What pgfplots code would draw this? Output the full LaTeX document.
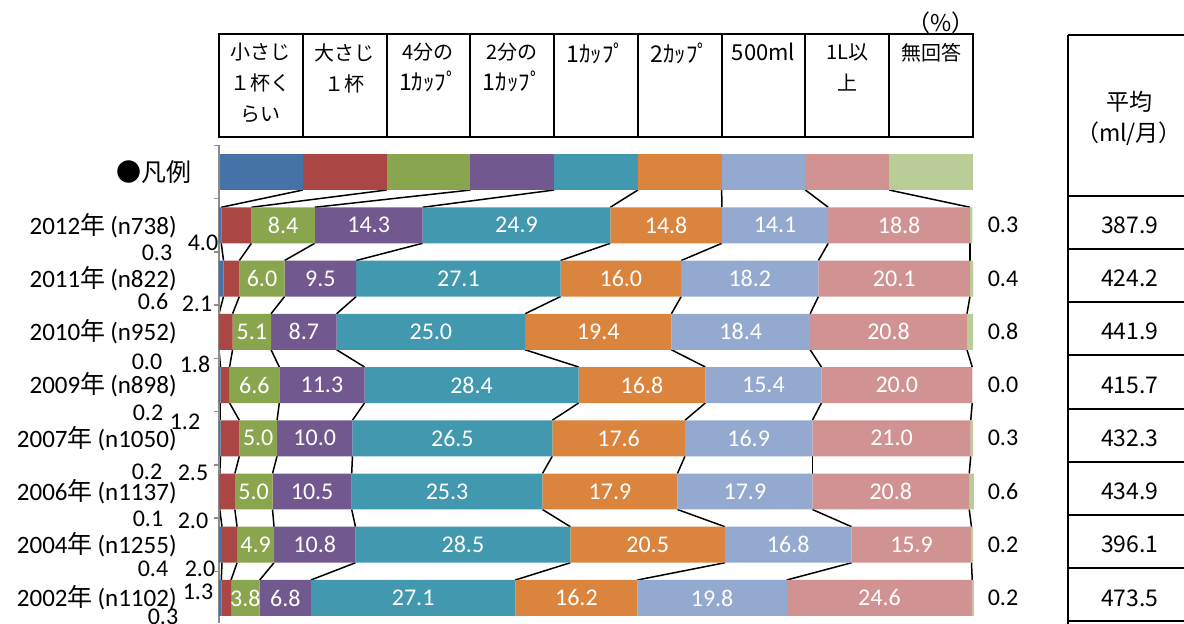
\documentclass[border=0pt]{standalone}
\usepackage{fontspec}
\setmainfont{Carlito}
\newfontfamily\cjk{Noto Sans CJK JP}
\usepackage{pgfplots}
\usepackage{pgfplotstable}
\pgfplotsset{compat=1.18}

\definecolor{cA}{HTML}{4572A7}
\definecolor{cB}{HTML}{AA4643}
\definecolor{cC}{HTML}{89A54E}
\definecolor{cD}{HTML}{71588F}
\definecolor{cE}{HTML}{4198AF}
\definecolor{cF}{HTML}{DB843D}
\definecolor{cG}{HTML}{93A9CF}
\definecolor{cH}{HTML}{D19392}
\definecolor{cI}{HTML}{B9CD96}

% row 0 = legend bar; c1..c9 in %, avg = ml/month
% bx by rx ry = label offsets (pt) of the two small left-hand values
\pgfplotstableread{
y c1 c2 c3 c4 c5 c6 c7 c8 c9 avg bx by rx ry
0 11.111 11.111 11.111 11.111 11.111 11.111 11.111 11.111 11.111 0 0 0 0 0
1 0.3 4.0 8.4 14.3 24.9 14.8 14.1 18.8 0.3 387.9 -31 -14 -8 -9
2 0.6 2.1 6.0 9.5 27.1 16.0 18.2 20.1 0.4 424.2 -33 -11.5 -11 -12.5
3 0.0 1.8 5.1 8.7 25.0 19.4 18.4 20.8 0.8 441.9 -36 -15 -12 -16.5
4 0.2 1.2 6.6 11.3 28.4 16.8 15.4 20.0 0.0 415.7 -35.5 -14 -17 -18.5
5 0.2 2.5 5.0 10.0 26.5 17.6 16.9 21.0 0.3 432.3 -36 -17 -13 -17.5
6 0.1 2.0 5.0 10.5 25.3 17.9 17.9 20.8 0.6 434.9 -35.5 -13.5 -13 -14.5
7 0.4 2.0 4.9 10.8 28.5 20.5 16.8 15.9 0.2 396.1 -33 -12 -9.5 -12
8 0.3 1.3 3.8 6.8 27.1 16.2 19.8 24.6 0.2 473.5 -28 -9.5 -10.5 3
}\data

% running totals (segment boundaries) and their change from the row above
\pgfplotstablecreatecol[create col/expr={\thisrow{c1}}]{s1}\data
\pgfplotstablecreatecol[create col/expr={\thisrow{s1}+\thisrow{c2}}]{s2}\data
\pgfplotstablecreatecol[create col/expr={\thisrow{s2}+\thisrow{c3}}]{s3}\data
\pgfplotstablecreatecol[create col/expr={\thisrow{s3}+\thisrow{c4}}]{s4}\data
\pgfplotstablecreatecol[create col/expr={\thisrow{s4}+\thisrow{c5}}]{s5}\data
\pgfplotstablecreatecol[create col/expr={\thisrow{s5}+\thisrow{c6}}]{s6}\data
\pgfplotstablecreatecol[create col/expr={\thisrow{s6}+\thisrow{c7}}]{s7}\data
\pgfplotstablecreatecol[create col/expr={\thisrow{s7}+\thisrow{c8}}]{s8}\data
\pgfplotstablecreatecol[create col/expr={\prevrow{s1}-\thisrow{s1}}]{d1}\data
\pgfplotstablecreatecol[create col/expr={\prevrow{s2}-\thisrow{s2}}]{d2}\data
\pgfplotstablecreatecol[create col/expr={\prevrow{s3}-\thisrow{s3}}]{d3}\data
\pgfplotstablecreatecol[create col/expr={\prevrow{s4}-\thisrow{s4}}]{d4}\data
\pgfplotstablecreatecol[create col/expr={\prevrow{s5}-\thisrow{s5}}]{d5}\data
\pgfplotstablecreatecol[create col/expr={\prevrow{s6}-\thisrow{s6}}]{d6}\data
\pgfplotstablecreatecol[create col/expr={\prevrow{s7}-\thisrow{s7}}]{d7}\data
\pgfplotstablecreatecol[create col/expr={\prevrow{s8}-\thisrow{s8}}]{d8}\data

\pgfplotsset{
  /pgf/number format/assume math mode=true,
  base/.style={at={(109.5pt,0pt)}, anchor=south west, scale only axis,
    width=377pt, height=238.8pt, xmin=0, xmax=100, ymin=-0.5, ymax=8.47,
    y dir=reverse, clip=false},
  lab/.style={nodes near coords={\pgfmathprintnumber[fixed,fixed zerofill,precision=1]{\pgfplotspointmeta}},
    point meta=explicit},
  inlab/.style={lab, every node near coord/.append style={anchor=center,
      text=white, font=\fontsize{12}{14}\selectfont}},
  outlab/.style 2 args={draw=none, lab, skip coords between index={0}{1},
    visualization depends on={\thisrow{#1}\as\vdx},
    visualization depends on={\thisrow{#2}\as\vdy},
    every node near coord/.append style={anchor=center, text=black,
      font=\fontsize{12}{14}\selectfont, xshift=\vdx pt, yshift=\vdy pt}},
  sline/.style={black, line width=0.75pt, quiver={u=\thisrow{d#1}, v=-0.324},
    skip coords between index={0}{1}},
}

\begin{document}
\begin{tikzpicture}
\useasboundingbox (0,0) rectangle (592pt,311.5pt);
\clip (0,0) rectangle (592pt,311.5pt);

% series lines, small outside values and the average column
\begin{axis}[base, hide axis]
  \addplot[sline=1] table[x=s1, y expr=\thisrow{y}-0.338] {\data};
  \addplot[sline=2] table[x=s2, y expr=\thisrow{y}-0.338] {\data};
  \addplot[sline=3] table[x=s3, y expr=\thisrow{y}-0.338] {\data};
  \addplot[sline=4] table[x=s4, y expr=\thisrow{y}-0.338] {\data};
  \addplot[sline=5] table[x=s5, y expr=\thisrow{y}-0.338] {\data};
  \addplot[sline=6] table[x=s6, y expr=\thisrow{y}-0.338] {\data};
  \addplot[sline=7] table[x=s7, y expr=\thisrow{y}-0.338] {\data};
  \addplot[sline=8] table[x=s8, y expr=\thisrow{y}-0.338] {\data};
  \addplot[outlab={bx}{by}] table[x expr=0, y=y, meta=c1] {\data};
  \addplot[outlab={rx}{ry}] table[x expr=0, y=y, meta=c2] {\data};
  \addplot[draw=none, lab, skip coords between index={0}{1},
    every node near coord/.append style={anchor=center, text=black,
      xshift=15pt, font=\fontsize{12}{14}\selectfont}]
    table[x expr=100, y=y, meta=c9] {\data};
  \addplot[draw=none, lab, skip coords between index={0}{1},
    every node near coord/.append style={anchor=center, text=black,
      font=\cjk\fontsize{11.5}{13}\selectfont}]
    table[x expr=120.8, y=y, meta=avg] {\data};
\end{axis}

% legend bar
\begin{axis}[base, hide axis, xbar stacked, bar width=0.676,
  every axis plot/.append style={draw=none, skip coords between index={1}{9}}]
  \addplot[fill=cA] table[x=c1, y=y] {\data};
  \addplot[fill=cB] table[x=c2, y=y] {\data};
  \addplot[fill=cC] table[x=c3, y=y] {\data};
  \addplot[fill=cD] table[x=c4, y=y] {\data};
  \addplot[fill=cE] table[x=c5, y=y] {\data};
  \addplot[fill=cF] table[x=c6, y=y] {\data};
  \addplot[fill=cG] table[x=c7, y=y] {\data};
  \addplot[fill=cH] table[x=c8, y=y] {\data};
  \addplot[fill=cI] table[x=c9, y=y] {\data};
\end{axis}

% survey years
\begin{axis}[base, xbar stacked, bar width=0.676,
  axis x line=none, axis y line*=left,
  axis line style={-, draw=black!45, line width=0.75pt},
  ytick={0,...,8},
  yticklabels={{\cjk ●凡例}\hspace*{-7.5pt},
    2012{\cjk 年}\hspace{2.5pt}(n738), 2011{\cjk 年}\hspace{2.5pt}(n822),
    2010{\cjk 年}\hspace{2.5pt}(n952), 2009{\cjk 年}\hspace{2.5pt}(n898),
    2007{\cjk 年}\hspace{2.5pt}(n1050), 2006{\cjk 年}\hspace{2.5pt}(n1137),
    2004{\cjk 年}\hspace{2.5pt}(n1255), 2002{\cjk 年}\hspace{2.5pt}(n1102)},
  minor ytick={-0.5,0.5,...,7.5},
  major tick length=0pt, minor tick length=2.5pt, tick align=outside,
  tick style={draw=black!45, line width=0.75pt},
  yticklabel style={anchor=east, inner sep=0pt, xshift=-21pt,
    font=\fontsize{12.5}{14}\selectfont},
  every axis plot/.append style={draw=none, skip coords between index={0}{1}}]
  \addplot[fill=cA] table[x=c1, y=y] {\data};
  \addplot[fill=cB] table[x=c2, y=y] {\data};
  \addplot[fill=cC, inlab] table[x=c3, y=y, meta=c3] {\data};
  \addplot[fill=cD, inlab] table[x=c4, y=y, meta=c4] {\data};
  \addplot[fill=cE, inlab] table[x=c5, y=y, meta=c5] {\data};
  \addplot[fill=cF, inlab] table[x=c6, y=y, meta=c6] {\data};
  \addplot[fill=cG, inlab] table[x=c7, y=y, meta=c7] {\data};
  \addplot[fill=cH, inlab] table[x=c8, y=y, meta=c8] {\data};
  \addplot[fill=cI] table[x=c9, y=y] {\data};
\end{axis}

% header table and average table, in pixel units of the reference
\begin{scope}[x=0.5pt, y=-0.5pt, shift={(0,311.5pt)},
  every node/.style={inner sep=0pt, font=\cjk\fontsize{10}{15.5}\selectfont}]
  \draw[line width=1pt] (219,34) rectangle (973,137);
  \foreach \i in {1,...,8}
    \draw[line width=1pt] ({219+\i*83.78},34) -- ({219+\i*83.78},137);
  \node[anchor=north, align=center] at (260.9,43) {小さじ\\１杯く\\らい};
  \node[anchor=north, align=center] at (344.7,43) {大さじ\\１杯};
  \node[anchor=north, align=center] at (428.4,43) {4分の\\{\fontsize{11.5}{15.5}\selectfont 1ｶｯﾌﾟ}};
  \node[anchor=north, align=center] at (512.2,43) {2分の\\{\fontsize{11.5}{15.5}\selectfont 1ｶｯﾌﾟ}};
  \node[anchor=north, align=center, font=\cjk\fontsize{11.5}{15.5}\selectfont] at (596.0,43) {1ｶｯﾌﾟ};
  \node[anchor=north, align=center, font=\cjk\fontsize{11.5}{15.5}\selectfont] at (679.8,43) {2ｶｯﾌﾟ};
  \node[anchor=north, align=center, font=\cjk\fontsize{11}{15.5}\selectfont] at (763.5,43) {500ml};
  \node[anchor=north, align=center] at (847.3,43) {1L以\\上};
  \node[anchor=north, align=center] at (931.1,43) {無回答};
  \node[font=\cjk\fontsize{11.5}{13}\selectfont] at (941,23) {（\%）};

  \draw[line width=1pt] (1068,35) -- (1068,640);
  \draw[line width=1pt] (1068,35) -- (1195,35);
  \foreach \k in {0,...,8}
    \draw[line width=1pt] (1068,{195.7+\k*53.2}) -- (1195,{195.7+\k*53.2});
  \node[font=\cjk\fontsize{11.5}{13}\selectfont] at (1129,102) {平均};
  \node[font=\cjk\fontsize{11.5}{13}\selectfont] at (1129,134) {（ml/月）};
\end{scope}
\end{tikzpicture}
\end{document}
